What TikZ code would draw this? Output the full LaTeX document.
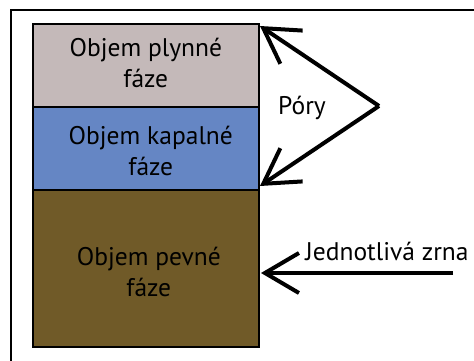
\documentclass[tikz,border=0pt]{standalone}
\usepackage{fontspec}
\setmainfont{PT Sans}
\usetikzlibrary{arrows.meta}
\definecolor{gascol}{RGB}{196,185,185}
\definecolor{liqcol}{RGB}{101,134,196}
\definecolor{solcol}{RGB}{112,90,40}
\tikzset{
  layer/.style={draw=black, line width=1.6pt, minimum width=226pt, inner sep=0pt, anchor=south west},
  lbl/.style={font=\fontsize{25.5}{31}\selectfont, align=center, inner sep=0pt, text=black},
  bigarrow/.style={line width=4pt, -{Straight Barb[length=34pt, width=40pt, line width=4pt]}},
}
\begin{document}
\begin{tikzpicture}[x=1pt,y=1pt]
\useasboundingbox (0,0) rectangle (474,361);
\fill[white] (0,0) rectangle (474,361);
% frame
\draw[line width=2pt] (11,0) -- (11,351) -- (474,351);
% layers
\node[layer, fill=solcol, minimum height=157pt] (sol) at (32,13) {};
\node[layer, fill=liqcol, minimum height=83pt] (liq) at (32,170) {};
\node[layer, fill=gascol, minimum height=83pt] (gas) at (32,253) {};
% labels
\node[lbl] (tgas) at ([shift={(0,3)}]gas.center) {Objem plynné\\fáze};
\node[lbl] (tliq) at ([shift={(5,-2)}]liq.center) {Objem kapalné\\fáze};
\node[lbl] (tsol) at ([shift={(3,-3)}]sol.center) {Objem pevné\\fáze};
% pory
\node[lbl] (pory) at (302,253) {Póry};
\coordinate (v) at (379,255);
\coordinate (tipA) at (260,335);
\coordinate (tipB) at (260,175);
\draw[bigarrow] (v) -- (tipA);
\draw[bigarrow] (v) -- (tipB);
% zrna
\node[lbl] (zrna) at (387,110) {Jednotlivá zrna};
\coordinate (ztail) at (453,88);
\coordinate (ztip) at (261,88);
\draw[bigarrow] (ztail) -- (ztip);
\end{tikzpicture}
\end{document}
